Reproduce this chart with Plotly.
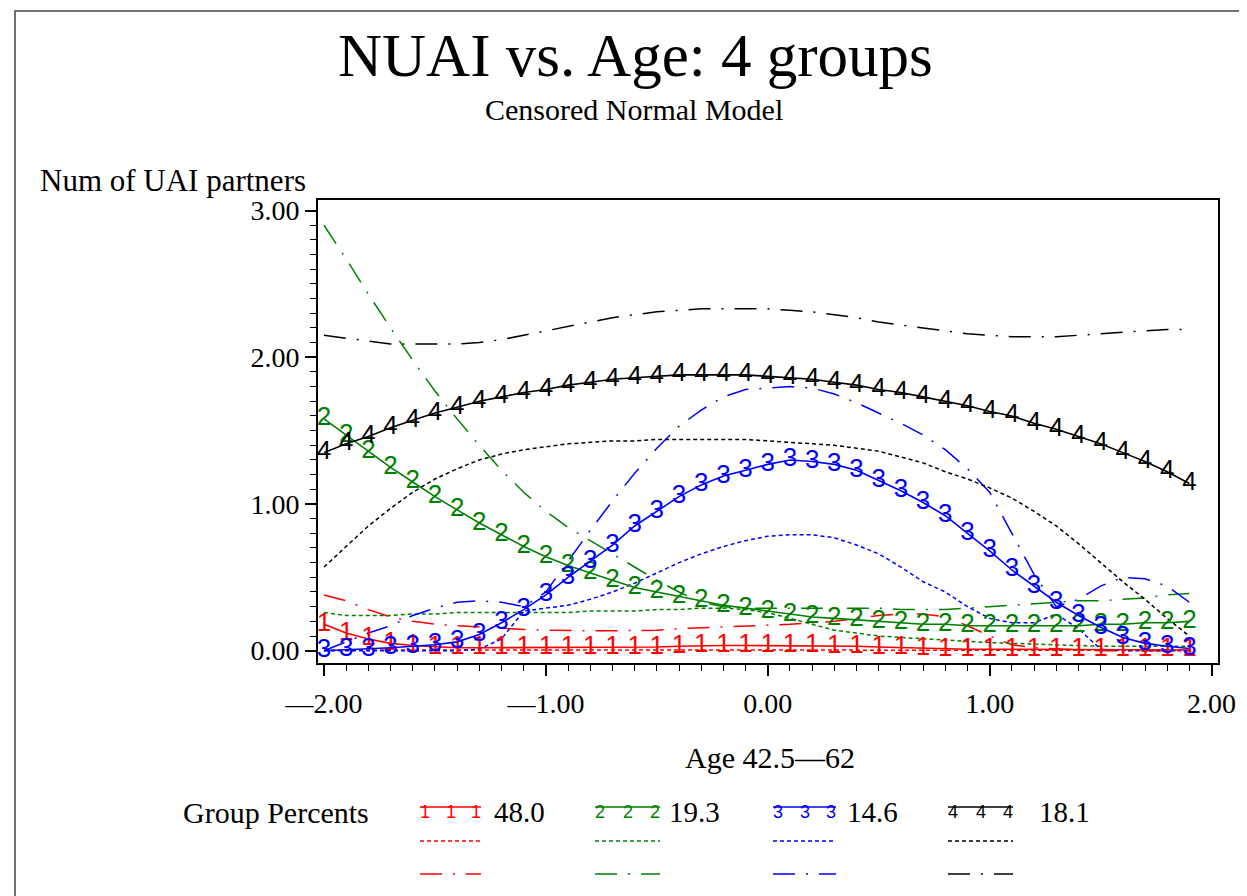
import plotly.graph_objects as go

# ---------------- data ----------------
age = [-2.0, -1.9, -1.8, -1.7, -1.6, -1.5, -1.4, -1.3, -1.2, -1.1,
       -1.0, -0.9, -0.8, -0.7, -0.6, -0.5, -0.4, -0.3, -0.2, -0.1,
       0.0, 0.1, 0.2, 0.3, 0.4, 0.5, 0.6, 0.7, 0.8, 0.9,
       1.0, 1.1, 1.2, 1.3, 1.4, 1.5, 1.6, 1.7, 1.8, 1.9]

groups = ["1", "2", "3", "4"]
group_pct = ["48.0", "19.3", "14.6", "18.1"]
colors = ["#ff0000", "#008000", "#0000ff", "#000000"]

# solid lines with group-number symbols
g1_solid = [0.18, 0.12, 0.08, 0.05, 0.035, 0.025, 0.02, 0.02, 0.02, 0.02,
            0.02, 0.02, 0.02, 0.02, 0.02, 0.025, 0.03, 0.035, 0.035, 0.035,
            0.035, 0.035, 0.035, 0.03, 0.03, 0.025, 0.02, 0.015, 0.01, 0.01,
            0.01, 0.01, 0.01, 0.008, 0.008, 0.007, 0.006, 0.006, 0.005, 0.005]
g2_solid = [1.58, 1.47, 1.36, 1.25, 1.15, 1.05, 0.96, 0.87, 0.79, 0.71,
            0.64, 0.58, 0.53, 0.48, 0.43, 0.40, 0.37, 0.34, 0.31, 0.29,
            0.27, 0.25, 0.23, 0.22, 0.21, 0.20, 0.19, 0.18, 0.18, 0.17,
            0.17, 0.17, 0.17, 0.17, 0.17, 0.18, 0.18, 0.19, 0.19, 0.20]
g3_solid = [0.00, 0.005, 0.01, 0.02, 0.03, 0.04, 0.06, 0.11, 0.19, 0.28,
            0.38, 0.50, 0.61, 0.72, 0.85, 0.95, 1.05, 1.13, 1.19, 1.23,
            1.27, 1.30, 1.29, 1.27, 1.23, 1.16, 1.09, 1.01, 0.92, 0.80,
            0.68, 0.55, 0.44, 0.33, 0.24, 0.16, 0.09, 0.05, 0.03, 0.015]
g4_solid = [1.35, 1.41, 1.46, 1.52, 1.57, 1.62, 1.66, 1.70, 1.73, 1.76,
            1.78, 1.81, 1.83, 1.85, 1.86, 1.87, 1.88, 1.88, 1.88, 1.88,
            1.87, 1.86, 1.85, 1.83, 1.81, 1.78, 1.76, 1.73, 1.70, 1.67,
            1.63, 1.60, 1.55, 1.51, 1.46, 1.41, 1.35, 1.29, 1.22, 1.14]

# short-dashed lines
g1_dot = [0.005, 0.005, 0.005, 0.005, 0.005, 0.005, 0.005, 0.005, 0.005, 0.005,
          0.005, 0.005, 0.005, 0.005, 0.005, 0.006, 0.007, 0.008, 0.008, 0.008,
          0.008, 0.008, 0.008, 0.007, 0.007, 0.006, 0.005, 0.005, 0.004, 0.004,
          0.004, 0.004, 0.003, 0.003, 0.003, 0.003, 0.003, 0.003, 0.003, 0.003]
g2_dot = [0.26, 0.24, 0.24, 0.24, 0.25, 0.25, 0.26, 0.26, 0.26, 0.26,
          0.26, 0.26, 0.27, 0.27, 0.27, 0.28, 0.28, 0.29, 0.29, 0.28,
          0.26, 0.22, 0.18, 0.14, 0.12, 0.10, 0.09, 0.08, 0.07, 0.065,
          0.055, 0.05, 0.045, 0.04, 0.035, 0.03, 0.03, 0.03, 0.03, 0.03]
g3_dot = [0.0, 0.0, 0.0, 0.0, 0.0, 0.0, 0.0, 0.01, 0.08, 0.27,
          0.29, 0.31, 0.35, 0.40, 0.46, 0.53, 0.60, 0.66, 0.71, 0.75,
          0.78, 0.79, 0.79, 0.77, 0.72, 0.66, 0.57, 0.47, 0.40, 0.30,
          0.22, 0.19, 0.19, 0.25, 0.15, 0.01, 0.0, 0.0, 0.0, 0.0]
g4_dot = [0.57, 0.71, 0.85, 0.97, 1.08, 1.17, 1.24, 1.30, 1.34, 1.37,
          1.39, 1.41, 1.42, 1.43, 1.43, 1.44, 1.44, 1.44, 1.44, 1.44,
          1.43, 1.42, 1.41, 1.40, 1.38, 1.36, 1.32, 1.28, 1.22, 1.17,
          1.11, 1.04, 0.95, 0.85, 0.73, 0.60, 0.47, 0.35, 0.22, 0.10]

# long-dash-dot lines
g1_dd = [0.38, 0.34, 0.28, 0.23, 0.20, 0.18, 0.17, 0.16, 0.15, 0.145,
         0.14, 0.135, 0.135, 0.135, 0.135, 0.14, 0.15, 0.155, 0.16, 0.17,
         0.175, 0.18, 0.19, 0.20, 0.22, 0.24, 0.25, 0.25, 0.23, 0.17,
         0.10, 0.04, 0.02, 0.01, 0.005, 0.0, 0.0, 0.0, 0.0, 0.0]
g2_dd = [2.90, 2.67, 2.43, 2.20, 1.98, 1.77, 1.58, 1.40, 1.23, 1.08,
         0.95, 0.84, 0.75, 0.66, 0.57, 0.48, 0.40, 0.33, 0.30, 0.29,
         0.29, 0.29, 0.29, 0.29, 0.29, 0.29, 0.28, 0.28, 0.28, 0.29,
         0.30, 0.31, 0.32, 0.33, 0.34, 0.34, 0.35, 0.36, 0.38, 0.39]
g3_dd = [0.00, 0.06, 0.12, 0.17, 0.24, 0.29, 0.33, 0.34, 0.33, 0.30,
         0.40, 0.61, 0.82, 1.02, 1.21, 1.38, 1.53, 1.64, 1.73, 1.78,
         1.79, 1.80, 1.79, 1.75, 1.69, 1.62, 1.55, 1.47, 1.37, 1.24,
         1.08, 0.80, 0.52, 0.30, 0.35, 0.44, 0.50, 0.49, 0.44, 0.33]
g4_dd = [2.15, 2.13, 2.11, 2.09, 2.09, 2.09, 2.09, 2.10, 2.12, 2.15,
         2.18, 2.21, 2.24, 2.27, 2.29, 2.31, 2.32, 2.33, 2.33, 2.33,
         2.33, 2.32, 2.31, 2.29, 2.27, 2.24, 2.22, 2.20, 2.18, 2.16,
         2.15, 2.14, 2.14, 2.14, 2.15, 2.16, 2.17, 2.18, 2.19, 2.19]

x_tickvals = [-2, -1, 0, 1, 2]
x_ticktext = ["\u20142.00", "\u20141.00", "0.00", "1.00", "2.00"]
y_tickvals = [0, 1, 2, 3]
y_ticktext = ["0.00", "1.00", "2.00", "3.00"]

solid = [g1_solid, g2_solid, g3_solid, g4_solid]
dots = [g1_dot, g2_dot, g3_dot, g4_dot]
dashdots = [g1_dd, g2_dd, g3_dd, g4_dd]

# ---------------- layout geometry ----------------
W, H = 1247, 896
L, R, T, B = 310, 37, 192, 241
PW, PH = W - L - R, H - T - B


def px(xp):
    return (xp - L) / PW


def py(yp):
    return (H - B - yp) / PH


SERIF = "Liberation Serif"
DOT = "4px,3px"
DASHDOT = "22px,11px,2px,11px"

fig = go.Figure()

for i in range(4):
    fig.add_trace(go.Scatter(x=age, y=dashdots[i], mode="lines",
                             line=dict(color=colors[i], width=1.5, dash=DASHDOT),
                             showlegend=False, hoverinfo="skip"))
    fig.add_trace(go.Scatter(x=age, y=dots[i], mode="lines",
                             line=dict(color=colors[i], width=1.5, dash=DOT),
                             showlegend=False, hoverinfo="skip"))
for i in range(4):
    fig.add_trace(go.Scatter(x=age, y=solid[i], mode="lines+text",
                             text=[groups[i]] * len(age), textposition="middle center",
                             textfont=dict(family="Liberation Sans", size=26, color=colors[i]),
                             line=dict(color=colors[i], width=1.6),
                             showlegend=False))

axis_common = dict(showline=True, linecolor="#000", linewidth=2, mirror=True,
                   ticks="outside", ticklen=11, tickwidth=1.5, tickcolor="#000",
                   showgrid=False, zeroline=False,
                   tickfont=dict(family=SERIF, size=28, color="#000"))

fig.update_xaxes(range=[-2.027, 2.029], tickvals=x_tickvals, ticktext=x_ticktext,
                 minor=dict(dtick=0.1, ticks="outside", ticklen=6, tickwidth=1.2, tickcolor="#000"),
                 ticklabelstandoff=3, **axis_common)
fig.update_yaxes(range=[-0.084, 3.072], tickvals=y_tickvals, ticktext=y_ticktext,
                 minor=dict(dtick=0.1, ticks="outside", ticklen=6, tickwidth=1.2, tickcolor="#000"),
                 **axis_common)

ann = []
shapes = []


def text(s, xp, yp, size, anchor="center", color="#000", family=SERIF):
    ann.append(dict(text=s, x=px(xp), y=py(yp), xref="paper", yref="paper",
                    xanchor=anchor, yanchor="middle", showarrow=False,
                    font=dict(family=family, size=size, color=color)))


text("NUAI vs. Age: 4 groups", 627, 48, 61)
text("Censored Normal Model", 626, 102, 30)
text("Num of UAI partners", 30, 172, 31, anchor="left")
text("Age 42.5\u201462", 762, 749, 30)
text("Group Percents", 173, 804, 30, anchor="left")

key_x = [(412, 473), (587, 652), (765, 828), (940, 1005)]
lab_x = [484, 659, 837, 1029]
for i in range(4):
    x0, x1 = key_x[i]
    shapes.append(dict(type="line", xref="paper", yref="paper",
                       x0=px(x0), x1=px(x1), y0=py(799), y1=py(799),
                       line=dict(color=colors[i], width=1.6)))
    for xx in (x0 + 5, (x0 + x1) / 2, x1 - 5):
        text(groups[i], xx, 804, 18, color=colors[i], family="Liberation Sans")
    text(group_pct[i], lab_x[i], 804, 29, anchor="left")
    shapes.append(dict(type="line", xref="paper", yref="paper",
                       x0=px(x0), x1=px(x1), y0=py(833), y1=py(833),
                       line=dict(color=colors[i], width=1.5, dash=DOT)))
    shapes.append(dict(type="line", xref="paper", yref="paper",
                       x0=px(x0), x1=px(x1), y0=py(866), y1=py(866),
                       line=dict(color=colors[i], width=1.5, dash=DASHDOT)))

# page border
shapes.append(dict(type="rect", xref="paper", yref="paper",
                   x0=px(7), x1=px(1242), y0=py(900), y1=py(3),
                   line=dict(color="#444", width=1.5)))

fig.update_layout(width=W, height=H, margin=dict(l=L, r=R, t=T, b=B),
                  paper_bgcolor="#fff", plot_bgcolor="#fff",
                  annotations=ann, shapes=shapes, showlegend=False)

fig.write_html("out.html")
